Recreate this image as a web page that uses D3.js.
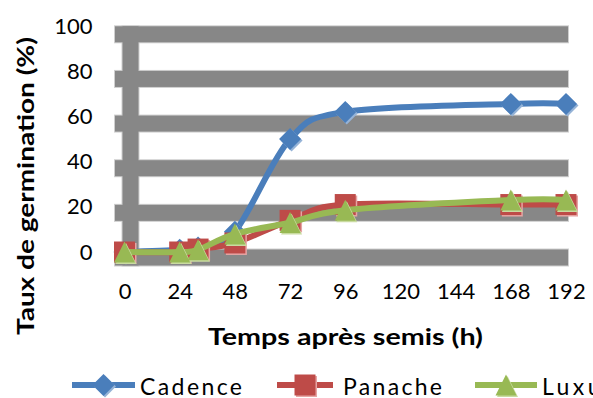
<!DOCTYPE html>
<html>
<head>
<meta charset="utf-8">
<script src="https://cdn.jsdelivr.net/npm/d3@7"></script>
<style>
  html, body { margin: 0; padding: 0; background: #fff; overflow: hidden; }
  svg { display: block; }
</style>
</head>
<body>
<svg id="chart" width="593" height="398"></svg>
<script>
// Germination kinetics of three varieties (hours after sowing vs % germinated)
const hours   = [0, 24, 32, 48, 72, 96, 168, 192];
const cadence = [0, 1, 2, 9, 50, 62, 65.5, 65.5];
const panache = [0, 0, 1.3, 4, 14, 21, 21, 21];
const luxus   = [0, 0, 1, 8, 13, 18.5, 23, 23];

const xTicks = [0, 24, 48, 72, 96, 120, 144, 168, 192];
const yTicks = [0, 20, 40, 60, 80, 100];

const seriesNames  = ["Cadence", "Panache", "Luxus"];
const seriesValues = [cadence, panache, luxus];
const seriesColors = ["#4a7ebb", "#be4b48", "#98b954"];
const seriesLight  = ["#95b3d7", "#e6a5a4", "#c9dba0"];

const svg = d3.select("#chart");
const FONT = "Lato, 'Noto Sans', sans-serif";

const x = d3.scaleLinear().domain([0, 192]).range([124.5, 566]);
const y = d3.scaleLinear().domain([0, 100]).range([252, 26]);
// the thick grid bands sit slightly below/right of their tick positions
const yGrid = y.copy().range([257.5, 34.3]);
const gridDX = 6;
const band = 16;

// ---- grid bands ----
const gridG = svg.append("g");
const bandRects = [];
yTicks.forEach(v => bandRects.push({
  x: x(0) - 9.5, y: yGrid(v) - band / 2, w: x(192) + 2 - (x(0) - 9.5), h: band
}));
bandRects.push({
  x: x(0) + gridDX - band / 2, y: yGrid(100) - band / 2,
  w: band, h: yGrid(0) - yGrid(100) + band
});
gridG.selectAll("rect.edge").data(bandRects).join("rect")
  .attr("class", "edge")
  .attr("x", d => d.x - 1).attr("y", d => d.y - 1)
  .attr("width", d => d.w + 2).attr("height", d => d.h + 2)
  .attr("fill", "#cfcfcf");
gridG.selectAll("rect.fill").data(bandRects).join("rect")
  .attr("class", "fill")
  .attr("x", d => d.x).attr("y", d => d.y)
  .attr("width", d => d.w).attr("height", d => d.h)
  .attr("fill", "#878787");

// ---- axes (labels only) ----
const xAxis = svg.append("g")
  .attr("transform", `translate(0,${y(0)})`)
  .call(d3.axisBottom(x).tickValues(xTicks).tickSize(0).tickPadding(31));
xAxis.select(".domain").remove();
xAxis.attr("font-family", FONT).attr("font-size", 22);
xAxis.selectAll("text").attr("fill", "#000");

const yAxis = svg.append("g")
  .attr("transform", `translate(${x(0)},0)`)
  .call(d3.axisLeft(y).tickValues(yTicks).tickSize(0).tickPadding(32));
yAxis.select(".domain").remove();
yAxis.attr("font-family", FONT).attr("font-size", 22);
yAxis.selectAll("text").attr("fill", "#000");

// ---- axis titles ----
svg.append("text")
  .attr("x", 345.5).attr("y", 344.5)
  .attr("text-anchor", "middle")
  .attr("font-family", FONT).attr("font-size", 23).attr("font-weight", "bold")
  .attr("textLength", 275).attr("lengthAdjust", "spacingAndGlyphs")
  .text("Temps après semis (h)");

svg.append("text")
  .attr("transform", "translate(34,186) rotate(-90)")
  .attr("text-anchor", "middle")
  .attr("font-family", FONT).attr("font-size", 23).attr("font-weight", "bold")
  .attr("textLength", 298).attr("lengthAdjust", "spacingAndGlyphs")
  .text("Taux de germination (%)");

// ---- marker shapes ----
const diamond = {
  draw(ctx, size) {
    const r = Math.sqrt(size) / 2;
    ctx.moveTo(0, -r); ctx.lineTo(r, 0); ctx.lineTo(0, r); ctx.lineTo(-r, 0); ctx.closePath();
  }
};
const square = {
  draw(ctx, size) {
    const r = Math.sqrt(size) / 2;
    ctx.moveTo(-r, -r); ctx.lineTo(r, -r); ctx.lineTo(r, r); ctx.lineTo(-r, r); ctx.closePath();
  }
};
const triangle = {
  draw(ctx, size) {
    const r = Math.sqrt(size) / 2;
    ctx.moveTo(0, -r); ctx.lineTo(r, r); ctx.lineTo(-r, r); ctx.closePath();
  }
};
const shapes = [diamond, square, triangle];
const shapeSizes = [22 * 22, 21 * 21, 21 * 21];

const line = d3.line()
  .x(d => x(d.h)).y(d => y(d.v))
  .curve(d3.curveCardinal.tension(0));

// ---- series ----
seriesValues.forEach((vals, i) => {
  const pts = hours.map((h, k) => ({ h, v: vals[k] }));
  const g = svg.append("g");
  g.append("path")
    .attr("d", line(pts))
    .attr("fill", "none")
    .attr("stroke", seriesColors[i])
    .attr("stroke-width", 6)
    .attr("stroke-linejoin", "round");
  const sym = d3.symbol().type(shapes[i]).size(shapeSizes[i]);
  g.selectAll("path.shadow").data(pts).join("path")
    .attr("class", "shadow")
    .attr("d", sym)
    .attr("transform", d => `translate(${x(d.h) + 1.5},${y(d.v) + 1.5})`)
    .attr("fill", seriesLight[i]);
  g.selectAll("path.mk").data(pts).join("path")
    .attr("class", "mk")
    .attr("d", sym)
    .attr("transform", d => `translate(${x(d.h)},${y(d.v)})`)
    .attr("fill", seriesColors[i]);
});

// ---- legend ----
const legendY = 385;
const legendItems = [
  { x0: 72, x1: 135, tx: 140, tl: 102 },
  { x0: 277, x1: 333, tx: 343, tl: 99 },
  { x0: 475, x1: 537, tx: 542, tl: 72 }
];
legendItems.forEach((it, i) => {
  const g = svg.append("g");
  g.append("line")
    .attr("x1", it.x0).attr("x2", it.x1)
    .attr("y1", legendY).attr("y2", legendY)
    .attr("stroke", seriesColors[i]).attr("stroke-width", 6);
  const sym = d3.symbol().type(shapes[i]).size(shapeSizes[i]);
  const cx = (it.x0 + it.x1) / 2;
  g.append("path").attr("d", sym)
    .attr("transform", `translate(${cx + 1.5},${legendY + 1.5})`)
    .attr("fill", seriesLight[i]);
  g.append("path").attr("d", sym)
    .attr("transform", `translate(${cx},${legendY})`)
    .attr("fill", seriesColors[i]);
  g.append("text")
    .attr("x", it.tx).attr("y", legendY + 9.5)
    .attr("font-family", FONT).attr("font-size", 23)
    .attr("textLength", it.tl).attr("lengthAdjust", "spacing")
    .text(seriesNames[i]);
});
</script>
</body>
</html>
